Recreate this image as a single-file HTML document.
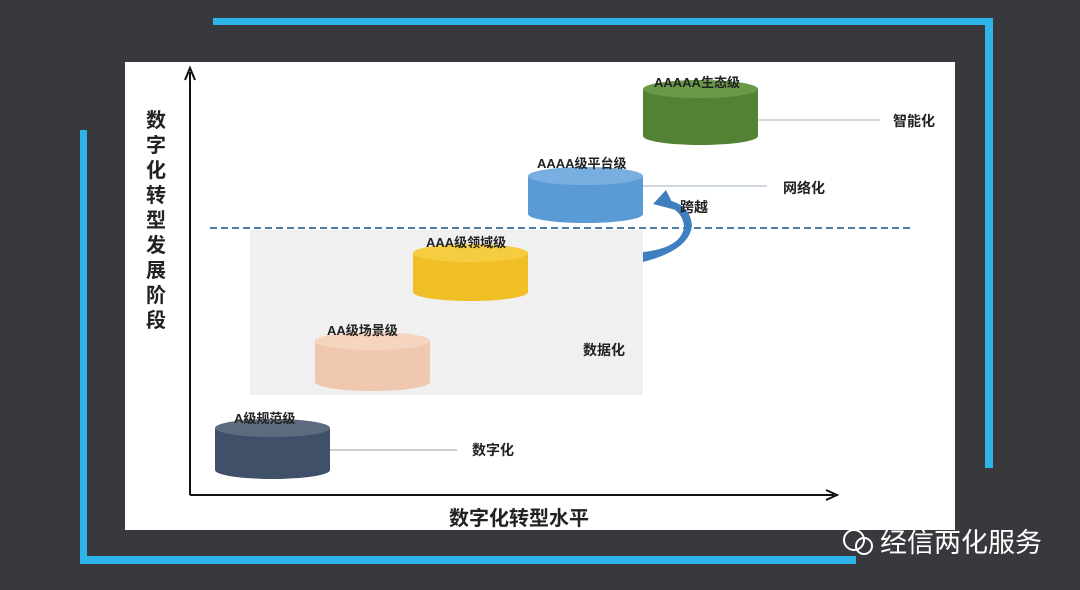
<!DOCTYPE html>
<html><head><meta charset="utf-8"><style>
html,body{margin:0;padding:0;background:#38393d;}
svg{display:block}
text{font-family:"Liberation Sans","Noto Sans CJK SC",sans-serif;font-weight:bold;fill:#222}
</style></head><body>
<svg width="1080" height="590" viewBox="0 0 1080 590">
<rect width="1080" height="590" fill="#38393d"/>
<rect x="213" y="18" width="780" height="7" fill="#2fb4ea"/>
<rect x="985" y="18" width="8" height="450" fill="#2fb4ea"/>
<rect x="80" y="130" width="7" height="434" fill="#2fb4ea"/>
<rect x="80" y="556" width="776" height="8" fill="#2fb4ea"/>
<rect x="125" y="62" width="830" height="468" fill="#ffffff"/>
<rect x="250" y="230" width="393" height="165" fill="#f0f0f0"/>
<line x1="210" y1="228" x2="912" y2="228" stroke="#4f7fa6" stroke-width="2" stroke-dasharray="7,4"/>
<line x1="190" y1="495" x2="190" y2="72" stroke="#111" stroke-width="2"/>
<path d="M185 80 L190 68 L195 80" fill="none" stroke="#111" stroke-width="2"/>
<line x1="190" y1="495" x2="834" y2="495" stroke="#111" stroke-width="2"/>
<path d="M826 490 L837 495 L826 500" fill="none" stroke="#111" stroke-width="2"/>
<line x1="330" y1="450" x2="457" y2="450" stroke="#ccc" stroke-width="2"/>
<line x1="643" y1="186" x2="767" y2="186" stroke="#cfd8de" stroke-width="2"/>
<line x1="758" y1="120" x2="880" y2="120" stroke="#d8dccc" stroke-width="2"/>
<g>
<path d="M215 428 V470 A57.5 9 0 0 0 330 470 V428 Z" fill="#3f5068"/>
<ellipse cx="272.5" cy="428" rx="57.5" ry="9" fill="#5d6b7e"/>
<path d="M315 341 V382 A57.5 9 0 0 0 430 382 V341 Z" fill="#f0c8b0"/>
<ellipse cx="372.5" cy="341" rx="57.5" ry="9" fill="#f5d4c0"/>
<path d="M413 253 V292 A57.5 9 0 0 0 528 292 V253 Z" fill="#efbf25"/>
<ellipse cx="470.5" cy="253" rx="57.5" ry="9" fill="#f6cc40"/>
<path d="M528 176 V214 A57.5 9 0 0 0 643 214 V176 Z" fill="#5b9bd5"/>
<ellipse cx="585.5" cy="176" rx="57.5" ry="9" fill="#78afe0"/>
<path d="M643 89 V136 A57.5 9 0 0 0 758 136 V89 Z" fill="#548235"/>
<ellipse cx="700.5" cy="89" rx="57.5" ry="9" fill="#6a9a48"/>
</g>
<path d="M643 262 Q690 250 692 225 Q690 205 668 200 L672 208 Q684 215 684 228 Q680 248 643 252 Z" fill="#3f7fbf"/>
<path d="M653 204 L666 190 L676 210 Z" fill="#3f7fbf"/>
<text x="234" y="423" font-size="13">A级规范级</text>
<text x="327" y="335" font-size="13">AA级场景级</text>
<text x="426" y="247" font-size="13">AAA级领域级</text>
<text x="537" y="168" font-size="13">AAAA级平台级</text>
<text x="654" y="87" font-size="13">AAAAA生态级</text>
<text x="472" y="455" font-size="14">数字化</text>
<text x="583" y="355" font-size="14">数据化</text>
<text x="783" y="193" font-size="14">网络化</text>
<text x="680" y="212" font-size="14">跨越</text>
<text x="893" y="126" font-size="14">智能化</text>
<g font-size="20">
<text x="146" y="127">数</text><text x="146" y="152">字</text><text x="146" y="177">化</text><text x="146" y="202">转</text><text x="146" y="227">型</text><text x="146" y="252">发</text><text x="146" y="277">展</text><text x="146" y="302">阶</text><text x="146" y="327">段</text>
</g>
<text x="449" y="525" font-size="20">数字化转型水平</text>
<circle cx="854" cy="540" r="10" fill="none" stroke="#fff" stroke-width="2"/>
<circle cx="864" cy="546" r="8" fill="none" stroke="#fff" stroke-width="2"/>
<text x="880" y="552" font-size="27" style="font-weight:normal;fill:#fff">经信两化服务</text>
</svg>
</body></html>
